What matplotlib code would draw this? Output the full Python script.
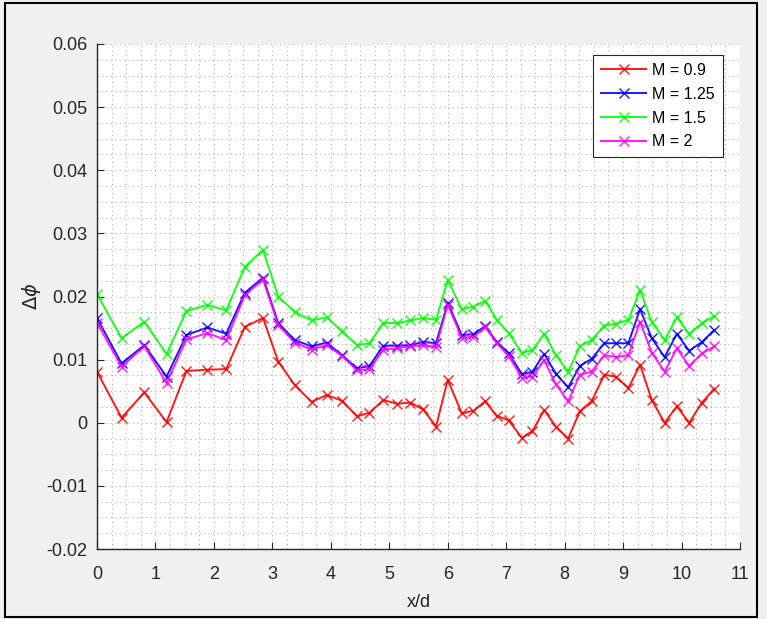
import matplotlib
matplotlib.use("Agg")
import matplotlib.pyplot as plt
from matplotlib.patches import Rectangle
from matplotlib.ticker import MultipleLocator

# Streamwise stations (x/d)
x_d = [0.00, 0.42, 0.81, 1.19, 1.53, 1.89, 2.21, 2.53, 2.84, 3.10, 3.38,
       3.67, 3.93, 4.19, 4.45, 4.66, 4.90, 5.14, 5.36, 5.58, 5.80, 6.00,
       6.24, 6.44, 6.64, 6.84, 7.04, 7.27, 7.45, 7.65, 7.85, 8.06, 8.26,
       8.46, 8.68, 8.88, 9.09, 9.29, 9.49, 9.71, 9.92, 10.13, 10.35, 10.56]

dphi_m090 = [0.0081, 0.0008, 0.0048, 0.0001, 0.0082, 0.0084, 0.0085, 0.0152,
             0.0166, 0.0097, 0.0060, 0.0033, 0.0044, 0.0035, 0.0010, 0.0016,
             0.0036, 0.0030, 0.0032, 0.0021, -0.0006, 0.0068, 0.0015, 0.0019,
             0.0034, 0.0011, 0.0004, -0.0024, -0.0013, 0.0020, -0.0006, -0.0025,
             0.0018, 0.0034, 0.0076, 0.0073, 0.0055, 0.0092, 0.0036, 0.0000,
             0.0026, 0.0000, 0.0032, 0.0054]

dphi_m125 = [0.0166, 0.0094, 0.0123, 0.0073, 0.0139, 0.0151, 0.0141, 0.0206,
             0.0230, 0.0158, 0.0131, 0.0121, 0.0127, 0.0107, 0.0086, 0.0090,
             0.0122, 0.0122, 0.0123, 0.0128, 0.0126, 0.0190, 0.0139, 0.0140,
             0.0153, 0.0128, 0.0110, 0.0077, 0.0081, 0.0109, 0.0078, 0.0056,
             0.0090, 0.0101, 0.0126, 0.0126, 0.0126, 0.0180, 0.0134, 0.0104,
             0.0141, 0.0114, 0.0128, 0.0147]

dphi_m150 = [0.0204, 0.0134, 0.0160, 0.0109, 0.0177, 0.0187, 0.0178, 0.0247,
             0.0274, 0.0200, 0.0176, 0.0162, 0.0167, 0.0145, 0.0123, 0.0126,
             0.0158, 0.0158, 0.0162, 0.0166, 0.0163, 0.0226, 0.0180, 0.0184,
             0.0193, 0.0163, 0.0142, 0.0111, 0.0115, 0.0141, 0.0107, 0.0081,
             0.0121, 0.0131, 0.0154, 0.0157, 0.0163, 0.0210, 0.0160, 0.0131,
             0.0167, 0.0141, 0.0158, 0.0169]

dphi_m200 = [0.0158, 0.0089, 0.0121, 0.0063, 0.0132, 0.0142, 0.0131, 0.0202,
             0.0227, 0.0155, 0.0127, 0.0116, 0.0123, 0.0106, 0.0083, 0.0085,
             0.0116, 0.0118, 0.0121, 0.0123, 0.0120, 0.0187, 0.0135, 0.0136,
             0.0152, 0.0126, 0.0106, 0.0071, 0.0073, 0.0099, 0.0061, 0.0034,
             0.0076, 0.0081, 0.0107, 0.0104, 0.0107, 0.0160, 0.0111, 0.0081,
             0.0118, 0.0090, 0.0110, 0.0121]

series_labels = ["M = 0.9", "M = 1.25", "M = 1.5", "M = 2"]
series_colors = ["#ff0000", "#0000ff", "#00ff00", "#ff00ff"]
series_values = [dphi_m090, dphi_m125, dphi_m150, dphi_m200]

x_ticks = list(range(0, 12))
y_ticks = [-0.02, -0.01, 0, 0.01, 0.02, 0.03, 0.04, 0.05, 0.06]
y_ticklabels = ["-0.02", "-0.01", "0", "0.01", "0.02", "0.03", "0.04", "0.05", "0.06"]

plt.rcParams["font.family"] = ["Liberation Sans", "DejaVu Sans"]
plt.rcParams["mathtext.fontset"] = "dejavusans"

W, H = 767, 619
fig = plt.figure(figsize=(W / 100, H / 100), dpi=100, facecolor="#f0f0f0")
ax = fig.add_axes([97 / W, 1 - 549 / H, (740 - 97) / W, (549 - 44) / H])
ax.set_facecolor("white")

for vals, col, lab in zip(series_values, series_colors, series_labels):
    ax.plot(x_d, vals, color=col, lw=1.4, marker="x", ms=7, mew=1.0,
            label=lab, alpha=0.9)

ax.set_xlim(0, 11)
ax.set_ylim(-0.02, 0.06)
ax.set_xticks(x_ticks)
ax.set_yticks(y_ticks)
ax.set_yticklabels(y_ticklabels)
ax.xaxis.set_minor_locator(MultipleLocator(0.25))
ax.yaxis.set_minor_locator(MultipleLocator(0.0025))

axis_col = "#262626"
ax.grid(True, which="both", linestyle=(0, (1, 3)), color="#b0b0b0", lw=0.8)
ax.set_axisbelow(True)
for side in ("top", "right"):
    ax.spines[side].set_visible(False)
for side in ("left", "bottom"):
    ax.spines[side].set_color(axis_col)
    ax.spines[side].set_linewidth(1.0)
ax.tick_params(which="major", direction="in", length=5, width=0.8,
               color=axis_col, labelcolor=axis_col, labelsize=13)
ax.tick_params(axis="x", which="major", pad=12)
ax.tick_params(axis="y", which="major", pad=7)
ax.tick_params(which="minor", length=0)

ax.set_xlabel("x/d", fontsize=13, color=axis_col, labelpad=8)
ax.set_ylabel(r"$\Delta\phi$", fontsize=14, color=axis_col, labelpad=2)

leg = ax.legend(loc="upper right", bbox_to_anchor=((723 - 97) / 643, 1 - 11 / 505),
                borderaxespad=0, fancybox=False, framealpha=1, edgecolor=axis_col,
                fontsize=11.5, handlelength=2.8, labelspacing=0.55,
                borderpad=0.5, handletextpad=0.4)
leg.get_frame().set_linewidth(0.8)
for t in leg.get_texts():
    t.set_color("black")

# outer frame
fig.patches.append(Rectangle((5 / W, 1 - 617 / H), (757 - 5) / W, (617 - 3) / H,
                             transform=fig.transFigure, fill=False,
                             edgecolor="black", lw=1.5))

fig.savefig("out.png", dpi=100, facecolor=fig.get_facecolor())
